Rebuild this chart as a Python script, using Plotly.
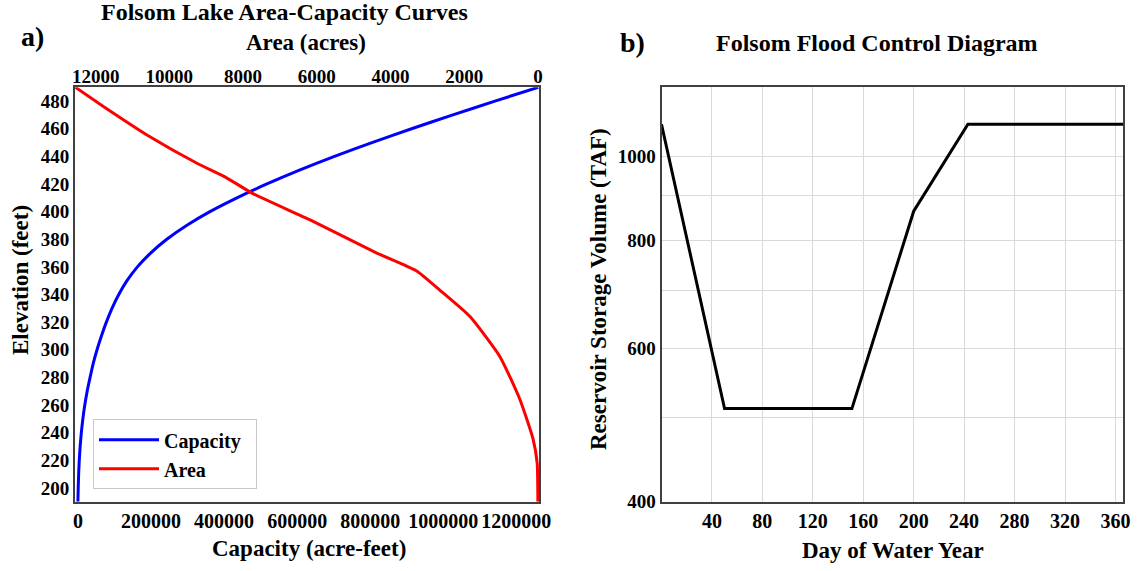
import math
import plotly.graph_objects as go

# ---- data ----
cap_elev = [190, 200, 210, 220, 230, 240, 250, 260, 270, 280, 290, 300, 310, 320, 330,
            340, 350, 360, 370, 380, 390, 400, 410, 420, 430, 440, 450, 460, 470, 480, 490]
capacity = [0, 800, 2000, 3700, 6100, 9300, 13500, 18800, 25300, 33300, 41800, 52300,
            64300, 77800, 93300, 111800, 134300, 162800, 198800, 243300, 297300, 361300,
            435300, 517300, 606300, 702300, 804800, 913300, 1026300, 1141300, 1260000]

area_elev = [190, 218, 235, 264, 295, 324, 343, 357, 370, 394, 413, 425, 435, 454, 476, 490]
area = [0, 20, 127, 488, 1030, 1843, 2656, 3290, 4370, 6180, 7730, 8480, 9250,
        10515, 11780, 12550]

days = [0, 50, 151, 200, 243, 366]
storage = [1088, 512, 512, 864, 1088, 1088]

cap_ticks = [0, 200000, 400000, 600000, 800000, 1000000, 1200000]
area_ticks = [0, 2000, 4000, 6000, 8000, 10000, 12000]
elev_ticks = list(range(200, 481, 20))
day_ticks = list(range(40, 361, 40))
stor_grid = [400, 500, 600, 700, 800, 900, 1000]
stor_labels = ["400", "", "600", "", "800", "", "1000"]

W, H = 1139, 571
FONT = "Liberation Serif, Times New Roman, serif"
PAD = "\u00a0\u00a0"

def px(x):
    return x / W

def py(y):
    return 1 - y / H

yd = [py(501.7), py(87.3)]
xtickfont = dict(family=FONT, size=20, color="black", weight="bold")
ytickfont = dict(family=FONT, size=19, color="black", weight="bold")
frame = dict(showline=True, linecolor="#404040", linewidth=2, mirror=True,
             zeroline=False, ticks="", automargin=False)

fig = go.Figure()
fig.add_trace(go.Scatter(x=capacity, y=cap_elev, mode="lines", name="Capacity" + PAD,
                         line=dict(color="#0000ff", width=3, shape="spline", smoothing=0.6),
                         xaxis="x", yaxis="y"))
fig.add_trace(go.Scatter(x=area, y=area_elev, mode="lines", name="Area",
                         line=dict(color="#ff0000", width=3, shape="spline", smoothing=0.5),
                         xaxis="x2", yaxis="y"))
fig.add_trace(go.Scatter(x=days, y=storage, mode="lines", name="Flood control",
                         line=dict(color="black", width=3), showlegend=False,
                         xaxis="x3", yaxis="y3"))

fig.update_layout(
    width=W, height=H,
    margin=dict(l=0, r=0, t=0, b=0, pad=0),
    paper_bgcolor="white", plot_bgcolor="white",
    font=dict(family=FONT, color="black"),
    xaxis=dict(domain=[px(75), px(539)], range=[-8000, 1262000], tickvals=cap_ticks,
               ticktext=[str(v) for v in cap_ticks], tickfont=xtickfont, showgrid=False,
               anchor="y", **frame),
    xaxis2=dict(overlaying="x", side="top", anchor="y", range=[12560, -30],
                tickvals=area_ticks, ticktext=[str(v) for v in area_ticks],
                tickfont=ytickfont, showgrid=False, showline=False, zeroline=False,
                ticks="", automargin=False),
    yaxis=dict(domain=yd, range=[190, 490], tickvals=elev_ticks, tickfont=ytickfont,
               showgrid=False, anchor="x", **frame),
    xaxis3=dict(domain=[px(661.5), px(1123)], range=[0, 366], tickvals=day_ticks,
                tickfont=xtickfont, showgrid=True, gridcolor="#d9d9d9", gridwidth=1,
                anchor="y3", **frame),
    yaxis3=dict(domain=yd, type="log", range=[math.log10(400), math.log10(1200)],
                tickvals=stor_grid, ticktext=stor_labels, tickfont=ytickfont,
                showgrid=True, gridcolor="#d9d9d9", gridwidth=1, anchor="x3", **frame),
    legend=dict(x=px(93), y=py(419.3), xanchor="left", yanchor="top",
                bgcolor="white", bordercolor="#c8c8c8", borderwidth=1,
                font=dict(family=FONT, size=20, color="black", weight="bold"),
                itemwidth=60),
    showlegend=True,
)

def ann(text, x, y, size, angle=0):
    fig.add_annotation(text=text, x=px(x), y=py(y), xref="paper", yref="paper",
                       xanchor="center", yanchor="middle", showarrow=False, textangle=angle,
                       font=dict(family=FONT, size=size, color="black", weight="bold"))

ann("Folsom Lake Area-Capacity Curves", 284, 12, 24)
ann("a)", 32, 36, 28)
ann("Area (acres)", 306, 42, 23)
ann("Capacity (acre-feet)", 309, 548, 23)
ann("Elevation (feet)", 21, 280, 23, -90)
ann("b)", 632, 43, 28)
ann("Folsom Flood Control Diagram", 877, 43, 24)
ann("Day of Water Year", 893, 550, 23)
ann("Reservoir Storage Volume (TAF)", 598, 289, 23, -90)

fig.write_html("out.html")
